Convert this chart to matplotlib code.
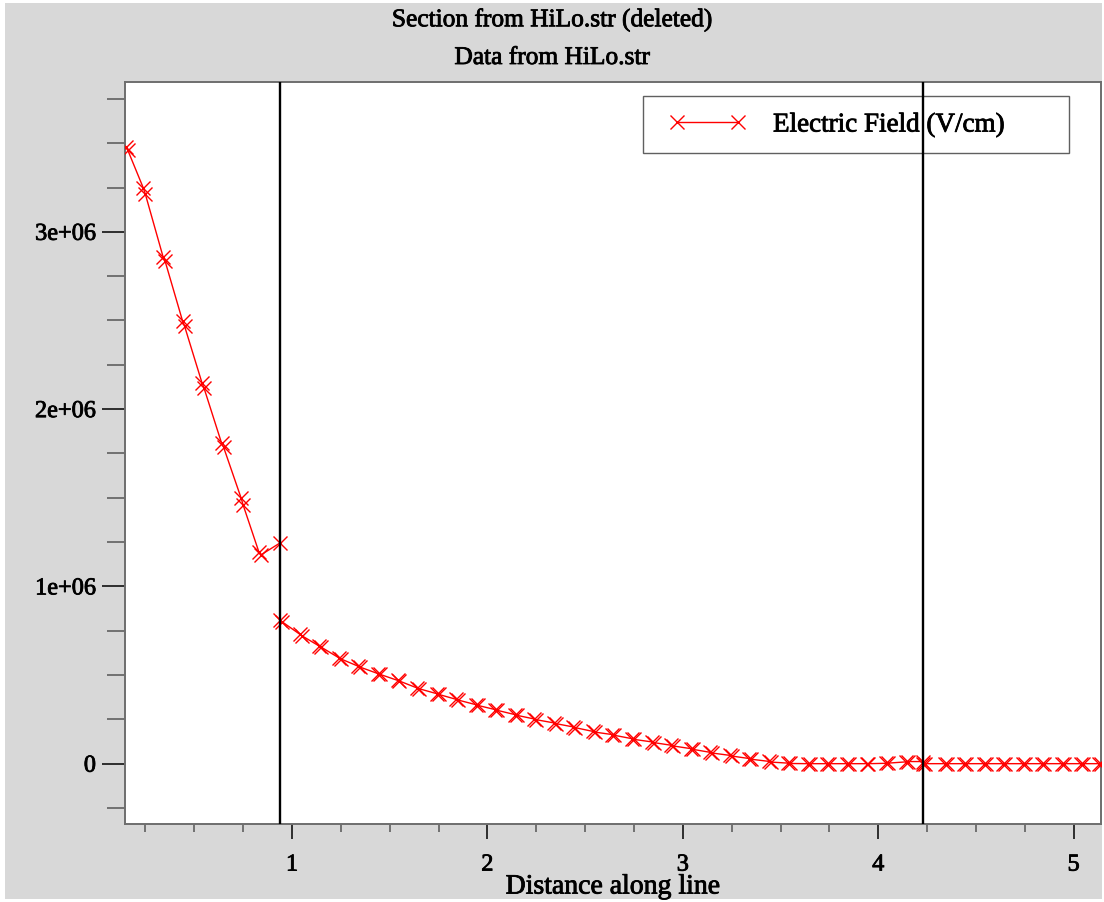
import matplotlib
matplotlib.use("Agg")
import matplotlib.pyplot as plt
import matplotlib.patheffects as pe
from matplotlib.ticker import MultipleLocator, FixedLocator, FixedFormatter
from matplotlib.patches import Rectangle

# Electric field along the cut line (V/cm), sampled on the device mesh
distance = [
    0.15, 0.16, 0.24, 0.25, 0.34, 0.35, 0.44, 0.45, 0.54, 0.55,
    0.64, 0.65, 0.74, 0.75, 0.83, 0.84, 0.94,
    0.94, 0.95, 1.04, 1.05, 1.14, 1.15, 1.24, 1.25, 1.34, 1.35,
    1.44, 1.45, 1.54, 1.55, 1.64, 1.65, 1.74, 1.75, 1.84, 1.85,
    1.94, 1.95, 2.04, 2.05, 2.14, 2.15, 2.24, 2.25, 2.34, 2.35,
    2.44, 2.45, 2.54, 2.55, 2.64, 2.65, 2.74, 2.75, 2.84, 2.85,
    2.94, 2.95, 3.04, 3.05, 3.14, 3.15, 3.24, 3.25, 3.34, 3.35,
    3.44, 3.45, 3.54, 3.55, 3.64, 3.65, 3.74, 3.75, 3.84, 3.85,
    3.94, 3.95, 4.04, 4.05, 4.14, 4.15, 4.23,
    4.23, 4.24, 4.34, 4.35, 4.44, 4.45, 4.54, 4.55, 4.64, 4.65,
    4.74, 4.75, 4.84, 4.85, 4.94, 4.95, 5.04, 5.05, 5.13, 5.14,
]
field = [
    3.480e6, 3.460e6, 3.245e6, 3.211e6, 2.860e6, 2.837e6, 2.497e6, 2.469e6, 2.146e6, 2.118e6,
    1.807e6, 1.785e6, 1.497e6, 1.459e6, 1.196e6, 1.177e6, 1.246e6,
    0.808e6, 0.800e6, 0.730e6, 0.722e6, 0.663e6, 0.657e6, 0.597e6, 0.591e6, 0.549e6, 0.544e6,
    0.508e6, 0.504e6, 0.470e6, 0.466e6, 0.427e6, 0.423e6, 0.395e6, 0.391e6, 0.363e6, 0.359e6,
    0.333e6, 0.329e6, 0.305e6, 0.301e6, 0.277e6, 0.273e6, 0.252e6, 0.248e6, 0.230e6, 0.226e6,
    0.207e6, 0.203e6, 0.182e6, 0.178e6, 0.164e6, 0.160e6, 0.141e6, 0.137e6, 0.123e6, 0.119e6,
    0.104e6, 0.100e6, 0.085e6, 0.081e6, 0.064e6, 0.060e6, 0.047e6, 0.043e6, 0.029e6, 0.025e6,
    0.013e6, 0.009e6, 0.003e6, 0.001e6, 0.0, 0.0, 0.0, 0.0, 0.0, 0.0,
    0.0, 0.0, 0.002e6, 0.003e6, 0.010e6, 0.012e6, 0.012e6,
    0.0, 0.0, 0.0, 0.0, 0.0, 0.0, 0.0, 0.0, 0.0, 0.0,
    0.0, 0.0, 0.0, 0.0, 0.0, 0.0, 0.0, 0.0, 0.0, 0.0,
]
series_label = "Electric Field (V/cm)"

# Region boundaries crossed by the cut line
boundaries = [0.94, 4.23]

y_ticks = [0, 1e6, 2e6, 3e6]
y_tick_labels = ["0", "1e+06", "2e+06", "3e+06"]
x_ticks = [1, 2, 3, 4, 5]
x_tick_labels = ["1", "2", "3", "4", "5"]

title_lines = ["Section from HiLo.str (deleted)", "Data from HiLo.str"]
x_label = "Distance along line"

SERIF = "Liberation Serif"
heavy = [pe.withStroke(linewidth=0.6, foreground="black")]

W, H = 1104, 902
fig = plt.figure(figsize=(W / 100, H / 100), dpi=100, facecolor="white")

# grey panel behind everything
fig.patches.append(Rectangle((5 / W, 3 / H), (1102 - 5) / W, (899 - 3) / H,
                             transform=fig.transFigure, facecolor="#d8d8d8",
                             edgecolor="none", zorder=-10))

ax_l, ax_r, ax_t, ax_b = 125, 1101, 81.7, 824.3
ax = fig.add_axes([ax_l / W, 1 - ax_b / H, (ax_r - ax_l) / W, (ax_b - ax_t) / H])
ax.set_facecolor("white")

ax.plot(distance, field, color="#ff0000", lw=1.0, marker="x", ms=9.5, mew=1.0,
        label=series_label, zorder=3)
for xb in boundaries:
    ax.axvline(xb, color="black", lw=1.7, zorder=6)

ax.set_xlim(0.1454, 5.14)
ax.set_ylim(-0.342e6, 3.847e6)

ax.yaxis.set_major_locator(FixedLocator(y_ticks))
ax.yaxis.set_major_formatter(FixedFormatter(y_tick_labels))
ax.yaxis.set_minor_locator(MultipleLocator(0.25e6))
ax.xaxis.set_major_locator(FixedLocator(x_ticks))
ax.xaxis.set_major_formatter(FixedFormatter(x_tick_labels))
ax.xaxis.set_minor_locator(MultipleLocator(0.25))

ax.tick_params(axis="y", which="major", direction="out", length=16.5, width=1.1,
               color="black", pad=4.5, labelsize=17.5)
ax.tick_params(axis="y", which="minor", direction="out", length=13, width=1.1,
               color="#555555")
ax.tick_params(axis="x", which="major", direction="out", length=10.8, width=1.1,
               color="black", pad=11, labelsize=17.5)
ax.tick_params(axis="x", which="minor", direction="out", length=5.8, width=1.1,
               color="#555555")
for lab in ax.get_xticklabels() + ax.get_yticklabels():
    lab.set_family(SERIF)
    lab.set_path_effects(heavy)

for s in ax.spines.values():
    s.set_color("#6e6e6e")
    s.set_linewidth(1.4)

# legend box frame, drawn separately so the entry can sit at its own offset
box_l, box_r, box_t, box_b = 643, 1069, 96, 153
ax.add_patch(Rectangle(((box_l - ax_l) / (ax_r - ax_l), (ax_b - box_b) / (ax_b - ax_t)),
                       (box_r - box_l) / (ax_r - ax_l), (box_b - box_t) / (ax_b - ax_t),
                       transform=ax.transAxes, facecolor="white", edgecolor="#606060",
                       lw=1.0, zorder=4.9))
leg_fs = 19.5
leg = ax.legend(loc="center left",
                bbox_to_anchor=((669 - ax_l) / (ax_r - ax_l), (ax_b - 125) / (ax_b - ax_t)),
                borderaxespad=0, borderpad=0, numpoints=2,
                handlelength=77 / (leg_fs * 100 / 72), handletextpad=27 / (leg_fs * 100 / 72),
                frameon=False, prop=dict(family=SERIF, size=leg_fs))
leg.set_zorder(5)
for t in leg.get_texts():
    t.set_path_effects(heavy)

fig.text(0.5, 1 - 20 / H, title_lines[0], ha="center", va="center",
         family=SERIF, fontsize=18.3, path_effects=heavy)
fig.text(0.5, 1 - 58 / H, title_lines[1], ha="center", va="center",
         family=SERIF, fontsize=18.3, path_effects=heavy)
fig.text((ax_l + ax_r) / 2 / W, 1 - 887 / H, x_label, ha="center", va="center",
         family=SERIF, fontsize=20, path_effects=heavy)

fig.savefig("out.png", dpi=100, facecolor=fig.get_facecolor())
